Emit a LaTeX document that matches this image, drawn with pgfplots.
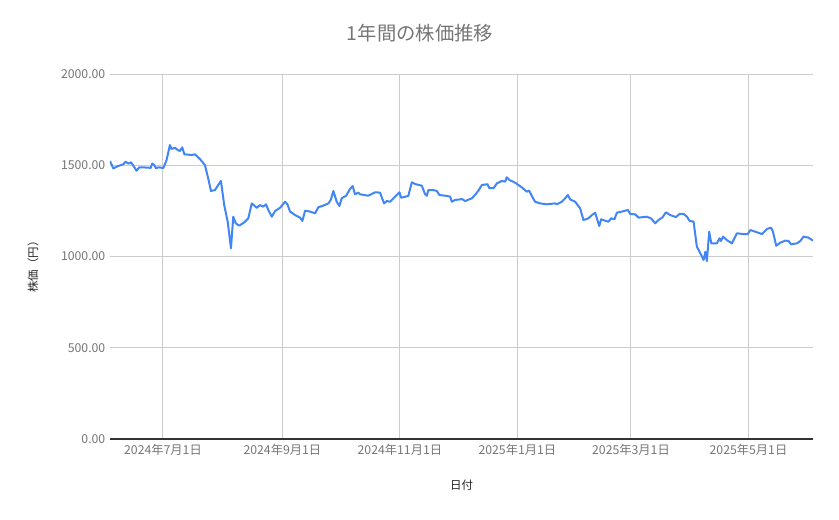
\documentclass[border=0pt]{standalone}
\usepackage{pgfplots}
\pgfplotsset{compat=1.18}
\usepackage{fontspec}
\setmainfont{Noto Sans CJK JP}
\definecolor{gblue}{HTML}{4285F4}
\definecolor{ggrid}{HTML}{CCCCCC}
\definecolor{glabel}{HTML}{757575}
\definecolor{gdark}{HTML}{333333}
% x = days since 2024-07-01
\begin{document}
\begin{tikzpicture}
\useasboundingbox (-82.5pt,-60pt) rectangle (546.75pt,329.25pt);
\begin{axis}[
    at={(0,0)}, anchor=south west,
    scale only axis,
    width=527.25pt, height=273.75pt,
    xmin=-27.5, xmax=337.5,
    ymin=0, ymax=2000,
    xtick={0,62,123,184,243,304},
    xticklabels={2024年7月1日,2024年9月1日,2024年11月1日,2025年1月1日,2025年3月1日,2025年5月1日},
    ytick={0,500,1000,1500,2000},
    yticklabel style={/pgf/number format/.cd, fixed, fixed zerofill, precision=2, 1000 sep={}},
    /pgf/number format/assume math mode=true,
    ticklabel style={font=\fontsize{9.2}{11}\selectfont, text=glabel},
    major tick length=0pt,
    grid=major,
    grid style={ggrid, line width=0.75pt},
    axis x line*=bottom, axis y line*=left,
    x axis line style={gdark, line width=0.8pt, -},
    y axis line style={draw=none},
    title={1年間の株価推移},
    title style={at={(rel axis cs:0.441,1)}, anchor=base, yshift=19.5pt,
                 font=\fontsize{14.5}{17}\selectfont, text=glabel},
    xlabel={日付},
    xlabel style={at={(axis description cs:0.5,0)}, anchor=center, yshift=-34.5pt,
                  font=\fontsize{8.6}{10}\selectfont, text=black!85},
    ylabel={株価（円）},
    ylabel style={at={(axis description cs:-0.1095,0.48)}, anchor=center,
                  font=\fontsize{8.6}{10}\selectfont, text=black!85},
]
\addplot[gblue, line width=1.5pt, line join=round] coordinates {
(-27.5,1523) (-25.8,1483) (-23.2,1496) (-20.6,1505) (-19.4,1520) (-18.0,1509)
(-16.6,1516) (-15.4,1498) (-13.7,1470) (-12.3,1489) (-7.6,1487) (-6.4,1485)
(-5.6,1509) (-4.5,1501) (-3.6,1483) (-2.4,1489) (0.2,1485) (1.9,1529)
(3.6,1611) (4.5,1589) (6.2,1596) (7.6,1584) (8.8,1578) (10.0,1598)
(11.1,1560) (14.9,1556) (16.6,1560) (19.2,1534) (21.8,1501) (23.5,1428)
(24.9,1359) (27.0,1364) (28.7,1392) (30.1,1414) (31.8,1282) (33.6,1191)
(35.3,1045) (36.5,1218) (37.8,1182) (39.6,1169) (42.2,1187) (44.3,1209)
(46.1,1291) (48.7,1267) (50.4,1282) (52.1,1273) (53.5,1286) (54.7,1255)
(56.5,1218) (58.2,1249) (60.8,1267) (63.4,1300) (64.6,1286) (66.0,1246)
(68.6,1227) (71.2,1213) (72.4,1195) (73.8,1251) (76.4,1246) (79.0,1237)
(80.7,1270) (83.3,1279) (85.9,1291) (87.1,1310) (88.5,1359) (90.2,1300)
(91.6,1277) (92.8,1319) (95.1,1333) (97.1,1370) (98.5,1386) (99.7,1341)
(101.5,1350) (102.3,1341) (106.6,1333) (110.1,1352) (112.7,1350) (114.8,1291)
(116.2,1304) (117.9,1300) (120.5,1328) (122.8,1352) (123.6,1322) (127.4,1332)
(129.2,1407) (130.9,1397) (134.4,1388) (136.1,1341) (137.0,1333) (137.8,1364)
(140.4,1364) (142.2,1359) (143.5,1337) (147.4,1332) (149.1,1328) (150.0,1300)
(151.7,1310) (154.3,1313) (155.2,1315) (156.9,1304) (160.4,1319) (162.4,1342)
(163.8,1361) (165.6,1392) (168.5,1396) (169.5,1374) (171.6,1374) (173.4,1401)
(175.9,1414) (177.7,1410) (178.5,1434) (179.9,1419) (182.9,1404) (186.3,1379)
(188.9,1355) (190.1,1361) (191.5,1332) (193.2,1300) (195.8,1291) (199.3,1286)
(203.6,1291) (204.5,1286) (207.1,1300) (208.8,1319) (210.2,1337) (211.4,1313)
(214.0,1300) (216.6,1264) (218.3,1200) (220.9,1209) (222.7,1227) (224.4,1240)
(225.3,1209) (226.5,1167) (227.5,1204) (229.6,1196) (231.3,1191) (232.7,1209)
(234.4,1204) (235.7,1240) (238.3,1246) (241.4,1255) (242.6,1233) (245.2,1231)
(246.9,1213) (251.3,1218) (253.4,1209) (255.6,1182) (257.3,1200) (259.4,1215)
(261.1,1242) (263.4,1227) (266.3,1216) (268.2,1233) (270.3,1233) (272.1,1218)
(273.4,1195) (275.5,1191) (277.2,1054) (279.0,1018) (280.7,981) (281.6,1026)
(282.4,975) (283.6,1136) (284.7,1072) (287.6,1072) (289.0,1100) (289.7,1085)
(290.8,1109) (292.8,1090) (295.4,1072) (298.0,1127) (301.5,1123) (303.5,1122)
(305.0,1145) (307.5,1136) (311.0,1123) (313.6,1151) (315.7,1158) (316.7,1136)
(318.4,1059) (320.5,1076) (323.1,1087) (324.8,1085) (326.1,1067) (329.2,1072)
(330.9,1085) (332.6,1109) (335.2,1103) (337.5,1087)
};
\end{axis}
\end{tikzpicture}
\end{document}
